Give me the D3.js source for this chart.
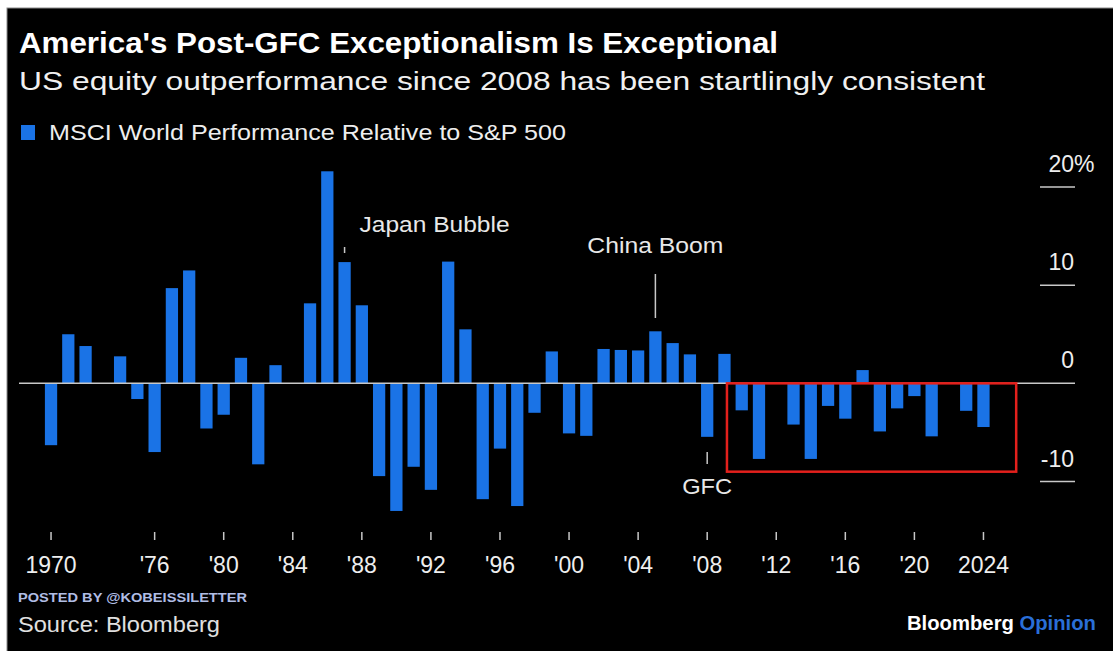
<!DOCTYPE html>
<html>
<head>
<meta charset="utf-8">
<script src="https://cdn.jsdelivr.net/npm/d3@7"></script>
<style>
  html, body { margin: 0; padding: 0; background: #ffffff; }
  svg { display: block; }
</style>
</head>
<body>
<div class="parentBarChart"></div>
<script>
// years on the x axis
let years = d3.range(1970, 2025);

// msci world performance relative to s&p 500, %, one value per year
let relPerformance = [
  -6.3, 5.0, 3.8, 0.0, 2.75, -1.6, -7.0, 9.7, 11.5, -4.6,
  -3.2, 2.6, -8.25, 1.85, 0.0, 8.15, 21.6, 12.35, 7.95, -9.45,
  -13.0, -8.5, -10.85, 12.4, 5.5, -11.8, -6.65, -12.5, -3.0, 3.25,
  -5.1, -5.35, 3.5, 3.4, 3.35, 5.3, 4.1, 2.95, -5.45, 3.0,
  -2.75, -7.7, 0.0, -4.2, -7.7, -2.3, -3.6, 1.35, -4.9, -2.55,
  -1.3, -5.4, 0.0, -2.8, -4.45
];

// tick labels
let xTickYears = [1970, 1976, 1980, 1984, 1988, 1992, 1996, 2000, 2004, 2008, 2012, 2016, 2020, 2024];
let xTickLabels = ["1970", "'76", "'80", "'84", "'88", "'92", "'96", "'00", "'04", "'08", "'12", "'16", "'20", "2024"];
let yTicks = [-10, 0, 10, 20];

// annotations
let annotationYears = [1987, 2005, 2008];
let annotationTexts = ["Japan Bubble", "China Boom", "GFC"];

barChart(".parentBarChart", 1113, 651);

function barChart(parentDiv, width, height) {
  // Exposed variables
  let attrs = {
    backgroundColor: "#000000",
    barColor: "#1a73e6",
    textColor: "#ffffff",
    axisColor: "#c8c8c8",
    font: "'Liberation Sans', Arial, Helvetica, sans-serif",
    boxColor: "#e3201c",
  };

  let svg = d3
    .select(parentDiv)
    .append("svg")
    .attr("width", width)
    .attr("height", height)
    .style("font-family", attrs.font);

  // black panel with thin grey edge
  svg
    .append("rect")
    .attr("x", 7)
    .attr("y", 8)
    .attr("width", width)
    .attr("height", height)
    .attr("fill", attrs.backgroundColor)
    .attr("stroke", "#8a8a8a")
    .attr("stroke-width", 1);

  // scales
  let x = d3
    .scaleBand()
    .domain(years)
    .range([42.4, 992.1])
    .paddingInner(0.29)
    .paddingOuter(0.145);

  let y = d3.scaleLinear().domain([-10, 20]).range([481.5, 187]);

  // titles
  svg
    .append("text")
    .attr("x", 19)
    .attr("y", 53)
    .attr("fill", attrs.textColor)
    .attr("font-size", 30)
    .attr("font-weight", "bold")
    .attr("textLength", 759)
    .attr("lengthAdjust", "spacingAndGlyphs")
    .text("America's Post-GFC Exceptionalism Is Exceptional");

  svg
    .append("text")
    .attr("x", 19)
    .attr("y", 90)
    .attr("fill", "#f0f0f0")
    .attr("font-size", 25.5)
    .attr("textLength", 966)
    .attr("lengthAdjust", "spacingAndGlyphs")
    .text("US equity outperformance since 2008 has been startlingly consistent");

  // legend
  svg
    .append("rect")
    .attr("x", 21)
    .attr("y", 125)
    .attr("width", 14)
    .attr("height", 15)
    .attr("fill", attrs.barColor);

  svg
    .append("text")
    .attr("x", 49)
    .attr("y", 140)
    .attr("fill", "#eeeeee")
    .attr("font-size", 22)
    .attr("textLength", 517)
    .attr("lengthAdjust", "spacingAndGlyphs")
    .text("MSCI World Performance Relative to S&P 500");

  // y axis tick lines on the right
  svg
    .selectAll(".yTickLine")
    .data(yTicks.filter((d) => d !== 0))
    .enter()
    .append("line")
    .attr("x1", 1040)
    .attr("x2", 1075)
    .attr("y1", (d) => y(d))
    .attr("y2", (d) => y(d))
    .attr("stroke", attrs.axisColor)
    .attr("stroke-width", 1.5);

  // y tick labels, numbers right aligned, % hanging out
  svg
    .selectAll(".yTickLabel")
    .data(yTicks)
    .enter()
    .append("text")
    .attr("x", 1074)
    .attr("y", (d) => y(d) - 15)
    .attr("text-anchor", "end")
    .attr("fill", "#eeeeee")
    .attr("font-size", 23)
    .text((d) => d);

  svg
    .append("text")
    .attr("x", 1074)
    .attr("y", y(20) - 15)
    .attr("fill", "#eeeeee")
    .attr("font-size", 23)
    .text("%");

  // bars
  svg
    .selectAll(".bar")
    .data(relPerformance)
    .enter()
    .append("rect")
    .attr("x", (d, i) => x(years[i]))
    .attr("y", (d) => y(Math.max(0, d)))
    .attr("width", x.bandwidth())
    .attr("height", (d) => Math.abs(y(d) - y(0)))
    .attr("fill", attrs.barColor);

  // zero line
  svg
    .append("line")
    .attr("x1", 19)
    .attr("x2", 1075)
    .attr("y1", y(0))
    .attr("y2", y(0))
    .attr("stroke", attrs.axisColor)
    .attr("stroke-width", 1.5);

  // x axis
  let xAxis = svg
    .append("g")
    .attr("transform", "translate(0,532)")
    .call(
      d3
        .axisBottom(x)
        .tickValues(xTickYears)
        .tickFormat((d, i) => xTickLabels[i])
        .tickSize(8)
        .tickPadding(17)
    );

  xAxis.select(".domain").remove();
  xAxis
    .selectAll(".tick line")
    .attr("stroke", attrs.axisColor)
    .attr("stroke-width", 1.5);
  xAxis
    .selectAll(".tick text")
    .attr("fill", "#eeeeee")
    .attr("font-size", 23)
    .attr("font-family", attrs.font);

  // red box round post-gfc years
  let step = x.step();
  svg
    .append("rect")
    .attr("x", x(2010) - step / 2)
    .attr("y", y(0))
    .attr("width", x(2024) + 2.25 * step - (x(2010) - step / 2))
    .attr("height", y(-9) - y(0))
    .attr("fill", "none")
    .attr("stroke", attrs.boxColor)
    .attr("stroke-width", 2.5);

  // annotations
  let center = (yr) => x(yr) + x.bandwidth() / 2;

  svg
    .append("text")
    .attr("x", center(annotationYears[0]) + 15)
    .attr("y", 232)
    .attr("fill", "#e8e8e8")
    .attr("font-size", 22)
    .attr("textLength", 150)
    .attr("lengthAdjust", "spacingAndGlyphs")
    .text(annotationTexts[0]);

  svg
    .append("line")
    .attr("x1", center(annotationYears[0]))
    .attr("x2", center(annotationYears[0]))
    .attr("y1", 247)
    .attr("y2", 253)
    .attr("stroke", attrs.axisColor)
    .attr("stroke-width", 1.5);

  svg
    .append("text")
    .attr("x", center(annotationYears[1]))
    .attr("y", 253)
    .attr("text-anchor", "middle")
    .attr("fill", "#e8e8e8")
    .attr("font-size", 22)
    .attr("textLength", 136)
    .attr("lengthAdjust", "spacingAndGlyphs")
    .text(annotationTexts[1]);

  svg
    .append("line")
    .attr("x1", center(annotationYears[1]))
    .attr("x2", center(annotationYears[1]))
    .attr("y1", 274)
    .attr("y2", 318)
    .attr("stroke", attrs.axisColor)
    .attr("stroke-width", 1.5);

  svg
    .append("line")
    .attr("x1", center(annotationYears[2]))
    .attr("x2", center(annotationYears[2]))
    .attr("y1", 452)
    .attr("y2", 464)
    .attr("stroke", attrs.axisColor)
    .attr("stroke-width", 1.5);

  svg
    .append("text")
    .attr("x", center(annotationYears[2]))
    .attr("y", 494)
    .attr("text-anchor", "middle")
    .attr("fill", "#e8e8e8")
    .attr("font-size", 22)
    .attr("textLength", 50)
    .attr("lengthAdjust", "spacingAndGlyphs")
    .text(annotationTexts[2]);

  // footer
  svg
    .append("text")
    .attr("x", 18)
    .attr("y", 602)
    .attr("fill", "#b0bde4")
    .attr("font-size", 13.5)
    .attr("font-weight", "bold")
    .attr("textLength", 229)
    .attr("lengthAdjust", "spacingAndGlyphs")
    .text("POSTED BY @KOBEISSILETTER");

  svg
    .append("text")
    .attr("x", 18)
    .attr("y", 632)
    .attr("fill", "#e0e0e0")
    .attr("font-size", 21.5)
    .attr("textLength", 202)
    .attr("lengthAdjust", "spacingAndGlyphs")
    .text("Source: Bloomberg");

  let brand = svg
    .append("text")
    .attr("x", 907)
    .attr("y", 630)
    .attr("font-size", 21)
    .attr("font-weight", "bold")
    .attr("textLength", 189)
    .attr("lengthAdjust", "spacingAndGlyphs");
  brand.append("tspan").attr("fill", "#ffffff").text("Bloomberg ");
  brand.append("tspan").attr("fill", "#2a6fd8").text("Opinion");
}
</script>
</body>
</html>
